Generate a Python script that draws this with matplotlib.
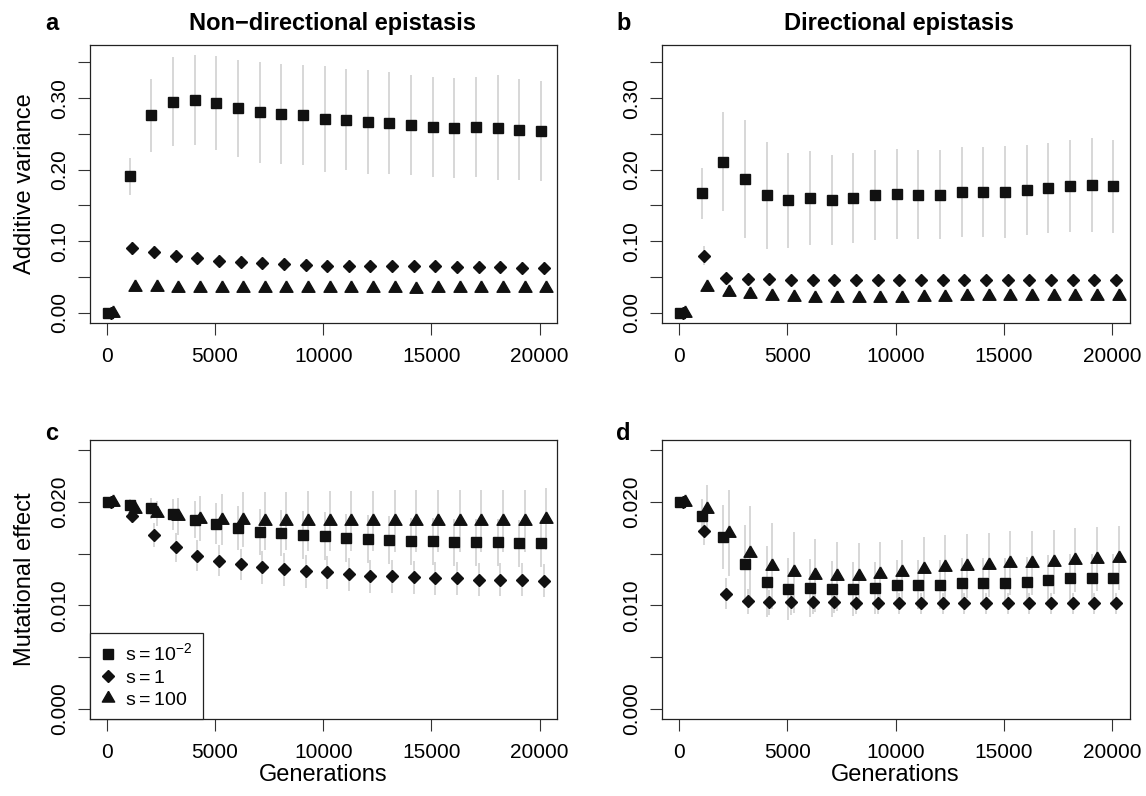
import matplotlib
matplotlib.use("Agg")
import matplotlib.pyplot as plt
import numpy as np
from matplotlib.lines import Line2D

plt.rcParams['font.family'] = ['Liberation Sans', 'DejaVu Sans']
plt.rcParams['mathtext.default'] = 'regular'

# generations sampled (every 1000)
gens = np.array([0, 1000, 2000, 3000, 4000, 5000, 6000, 7000, 8000, 9000, 10000,
                 11000, 12000, 13000, 14000, 15000, 16000, 17000, 18000, 19000, 20000])

labels = [r'$\mathregular{s=10^{-2}}$', r'$\mathregular{s=1}$', r'$\mathregular{s=100}$']

# panel a: additive variance, non-directional epistasis
a_sq = [0.000, 0.191, 0.276, 0.295, 0.298, 0.293, 0.286, 0.280, 0.278, 0.276, 0.271,
        0.270, 0.267, 0.265, 0.262, 0.260, 0.258, 0.260, 0.259, 0.256, 0.254]
a_sq_err = [0.000, 0.026, 0.051, 0.062, 0.063, 0.066, 0.068, 0.070, 0.070, 0.070, 0.074,
            0.071, 0.073, 0.071, 0.070, 0.070, 0.070, 0.070, 0.073, 0.071, 0.070]
a_di = [0.000, 0.090, 0.085, 0.079, 0.076, 0.073, 0.071, 0.069, 0.068, 0.067, 0.066,
        0.066, 0.066, 0.065, 0.065, 0.065, 0.064, 0.064, 0.064, 0.063, 0.063]
a_di_err = [0.000, 0.009, 0.008, 0.008, 0.008, 0.008, 0.008, 0.008, 0.008, 0.008, 0.008,
            0.008, 0.008, 0.008, 0.008, 0.008, 0.008, 0.008, 0.008, 0.008, 0.008]
a_tr = [0.000, 0.036, 0.036, 0.035, 0.035, 0.034, 0.034, 0.035, 0.034, 0.034, 0.034,
        0.034, 0.034, 0.034, 0.033, 0.034, 0.034, 0.034, 0.034, 0.034, 0.035]
a_tr_err = [0.000, 0.006, 0.006, 0.006, 0.006, 0.006, 0.006, 0.006, 0.006, 0.006, 0.006,
            0.006, 0.006, 0.006, 0.006, 0.006, 0.006, 0.006, 0.006, 0.006, 0.006]

# panel b: additive variance, directional epistasis
b_sq = [0.000, 0.167, 0.211, 0.187, 0.164, 0.157, 0.160, 0.157, 0.160, 0.164, 0.166,
        0.165, 0.165, 0.169, 0.169, 0.169, 0.171, 0.174, 0.177, 0.179, 0.177]
b_sq_err = [0.000, 0.036, 0.069, 0.082, 0.075, 0.067, 0.066, 0.063, 0.063, 0.063, 0.063,
            0.062, 0.062, 0.063, 0.063, 0.064, 0.063, 0.063, 0.064, 0.066, 0.065]
b_di = [0.000, 0.080, 0.049, 0.047, 0.047, 0.046, 0.046, 0.046, 0.046, 0.046, 0.046,
        0.046, 0.046, 0.046, 0.046, 0.046, 0.046, 0.046, 0.046, 0.046, 0.046]
b_di_err = [0.000, 0.013, 0.006, 0.005, 0.005, 0.005, 0.005, 0.005, 0.005, 0.005, 0.005,
            0.005, 0.005, 0.005, 0.005, 0.005, 0.005, 0.005, 0.005, 0.005, 0.005]
b_tr = [0.000, 0.036, 0.029, 0.026, 0.023, 0.022, 0.021, 0.020, 0.020, 0.021, 0.021,
        0.022, 0.022, 0.023, 0.023, 0.023, 0.023, 0.023, 0.024, 0.024, 0.024]
b_tr_err = [0.000, 0.007, 0.007, 0.006, 0.006, 0.006, 0.006, 0.006, 0.006, 0.006, 0.006,
            0.006, 0.006, 0.006, 0.006, 0.006, 0.006, 0.006, 0.006, 0.006, 0.006]

# panel c: mutational effect, non-directional epistasis
c_sq = [0.0200, 0.0197, 0.0194, 0.0188, 0.0183, 0.0179, 0.0175, 0.0171, 0.0170, 0.0168, 0.0167,
        0.0165, 0.0164, 0.0163, 0.0162, 0.0162, 0.0161, 0.0161, 0.0161, 0.0160, 0.0160]
c_sq_err = [0.0000, 0.0006, 0.0010, 0.0015, 0.0018, 0.0020, 0.0021, 0.0022, 0.0022, 0.0023, 0.0023,
            0.0023, 0.0023, 0.0023, 0.0023, 0.0023, 0.0023, 0.0023, 0.0023, 0.0023, 0.0023]
c_di = [0.0200, 0.0186, 0.0168, 0.0156, 0.0148, 0.0143, 0.0140, 0.0137, 0.0135, 0.0133, 0.0132,
        0.0130, 0.0128, 0.0128, 0.0127, 0.0126, 0.0126, 0.0125, 0.0125, 0.0125, 0.0124]
c_di_err = [0.0000, 0.0006, 0.0012, 0.0014, 0.0015, 0.0015, 0.0015, 0.0016, 0.0016, 0.0016, 0.0016,
            0.0016, 0.0016, 0.0016, 0.0016, 0.0016, 0.0016, 0.0016, 0.0016, 0.0016, 0.0016]
c_tr = [0.0200, 0.0193, 0.0189, 0.0186, 0.0184, 0.0183, 0.0183, 0.0182, 0.0182, 0.0182, 0.0182,
        0.0182, 0.0182, 0.0182, 0.0182, 0.0182, 0.0182, 0.0182, 0.0182, 0.0182, 0.0184]
c_tr_err = [0.0000, 0.0008, 0.0012, 0.0018, 0.0022, 0.0025, 0.0027, 0.0028, 0.0028, 0.0029, 0.0029,
            0.0029, 0.0029, 0.0030, 0.0030, 0.0030, 0.0030, 0.0030, 0.0030, 0.0030, 0.0030]

# panel d: mutational effect, directional epistasis
d_sq = [0.0200, 0.0186, 0.0166, 0.0140, 0.0123, 0.0116, 0.0117, 0.0116, 0.0116, 0.0117, 0.0120,
        0.0120, 0.0120, 0.0122, 0.0122, 0.0122, 0.0123, 0.0125, 0.0126, 0.0126, 0.0126]
d_sq_err = [0.0000, 0.0017, 0.0031, 0.0038, 0.0034, 0.0030, 0.0028, 0.0027, 0.0026, 0.0025, 0.0024,
            0.0024, 0.0024, 0.0024, 0.0024, 0.0024, 0.0024, 0.0024, 0.0024, 0.0024, 0.0024]
d_di = [0.0200, 0.0172, 0.0111, 0.0104, 0.0103, 0.0103, 0.0103, 0.0103, 0.0102, 0.0102, 0.0102,
        0.0102, 0.0102, 0.0102, 0.0102, 0.0102, 0.0102, 0.0102, 0.0102, 0.0102, 0.0102]
d_di_err = [0.0000, 0.0014, 0.0015, 0.0012, 0.0012, 0.0012, 0.0011, 0.0010, 0.0010, 0.0010, 0.0010,
            0.0010, 0.0010, 0.0010, 0.0010, 0.0010, 0.0010, 0.0010, 0.0010, 0.0010, 0.0010]
d_tr = [0.0200, 0.0193, 0.0170, 0.0151, 0.0138, 0.0132, 0.0129, 0.0128, 0.0128, 0.0130, 0.0132,
        0.0135, 0.0137, 0.0138, 0.0139, 0.0141, 0.0141, 0.0142, 0.0144, 0.0145, 0.0146]
d_tr_err = [0.0000, 0.0023, 0.0042, 0.0045, 0.0042, 0.0039, 0.0035, 0.0033, 0.0032, 0.0031, 0.0031,
            0.0031, 0.0031, 0.0031, 0.0031, 0.0031, 0.0031, 0.0031, 0.0031, 0.0031, 0.0031]

# R-style pch 17 triangle (centred on circumcentre)
tri = [(0, 1), (-0.866, -0.5), (0.866, -0.5), (0, 1)]
markers = ['s', 'D', tri]
msizes = [6.9, 6.1, 10.8]
offsets = [60, 180, 300]
err_col = '#d4d4d4'

W, H = 1146, 796
fig = plt.figure(figsize=(W / 100, H / 100), dpi=100)


def add_ax(left, right, top, bottom):
    return fig.add_axes([left / W, 1 - bottom / H, (right - left) / W, (bottom - top) / H])


ax_a = add_ax(89.5, 557, 45, 323)
ax_b = add_ax(661.5, 1129.5, 45, 323)
ax_c = add_ax(89.5, 557, 440, 719)
ax_d = add_ax(661.5, 1129.5, 440, 719)

panels = [
    (ax_a, [a_sq, a_di, a_tr], [a_sq_err, a_di_err, a_tr_err], 'a'),
    (ax_b, [b_sq, b_di, b_tr], [b_sq_err, b_di_err, b_tr_err], 'b'),
    (ax_c, [c_sq, c_di, c_tr], [c_sq_err, c_di_err, c_tr_err], 'c'),
    (ax_d, [d_sq, d_di, d_tr], [d_sq_err, d_di_err, d_tr_err], 'd'),
]

for ax, series, errs, letter in panels:
    for k in range(3):
        x = gens + offsets[k]
        y = np.array(series[k])
        e = np.array(errs[k])
        ax.vlines(x, y - e, y + e, color=err_col, lw=1.3, zorder=1)
    for k in range(3):
        x = gens + offsets[k]
        ax.plot(x, series[k], linestyle='none', marker=markers[k], ms=msizes[k],
                color='#111111', mec='#111111', zorder=3)
    ax.set_xlim(-800, 20800)
    ax.set_xticks([0, 5000, 10000, 15000, 20000])
    ax.tick_params(direction='out', length=8.5, width=0.8, labelsize=15, color='#333333')
    ax.tick_params(axis='x', pad=9)
    ax.tick_params(axis='y', pad=6.5)
    for sp in ax.spines.values():
        sp.set_linewidth(0.9)
        sp.set_color('#222222')
    top_y = 1.079 if letter in 'ab' else 1.025
    ax.text(-0.081, top_y, letter, transform=ax.transAxes, fontsize=17,
            fontweight='bold', ha='center', va='center')

for ax in (ax_a, ax_b):
    ax.set_ylim(-0.0144, 0.3744)
    yt = [0.00, 0.05, 0.10, 0.15, 0.20, 0.25, 0.30, 0.35]
    ax.set_yticks(yt)
    ax.set_yticklabels(['0.00', '', '0.10', '', '0.20', '', '0.30', ''],
                       rotation=90, va='center')

for ax in (ax_c, ax_d):
    ax.set_ylim(-0.001, 0.026)
    yt = [0.000, 0.005, 0.010, 0.015, 0.020, 0.025]
    ax.set_yticks(yt)
    ax.set_yticklabels(['0.000', '', '0.010', '', '0.020', ''],
                       rotation=90, va='center')
    ax.set_xlabel('Generations', fontsize=17)
    ax.xaxis.set_label_coords(0.5, -0.2)
    ax.xaxis.label.set_va('center')

ax_a.set_ylabel('Additive variance', fontsize=17)
ax_c.set_ylabel('Mutational effect', fontsize=17)
for ax in (ax_a, ax_c):
    ax.yaxis.set_label_coords(-0.139, 0.5)
    ax.yaxis.label.set_va('center')

ax_a.text(0.52, 1.079, 'Non\u2212directional epistasis', transform=ax_a.transAxes,
          fontsize=17, fontweight='bold', ha='center', va='center')
ax_b.text(0.507, 1.079, 'Directional epistasis', transform=ax_b.transAxes,
          fontsize=17, fontweight='bold', ha='center', va='center')

handles = [Line2D([], [], linestyle='none', marker=markers[k], ms=msizes[k] * 0.95,
                  color='#111111') for k in range(3)]
leg = ax_c.legend(handles, labels, loc='lower left', borderaxespad=0, fontsize=14,
                  frameon=True, fancybox=False, edgecolor='#222222', framealpha=1,
                  handlelength=0.9, handletextpad=0.45, labelspacing=0.25,
                  borderpad=0.5)
leg.get_frame().set_linewidth(0.9)

fig.savefig('out.png', dpi=100)
